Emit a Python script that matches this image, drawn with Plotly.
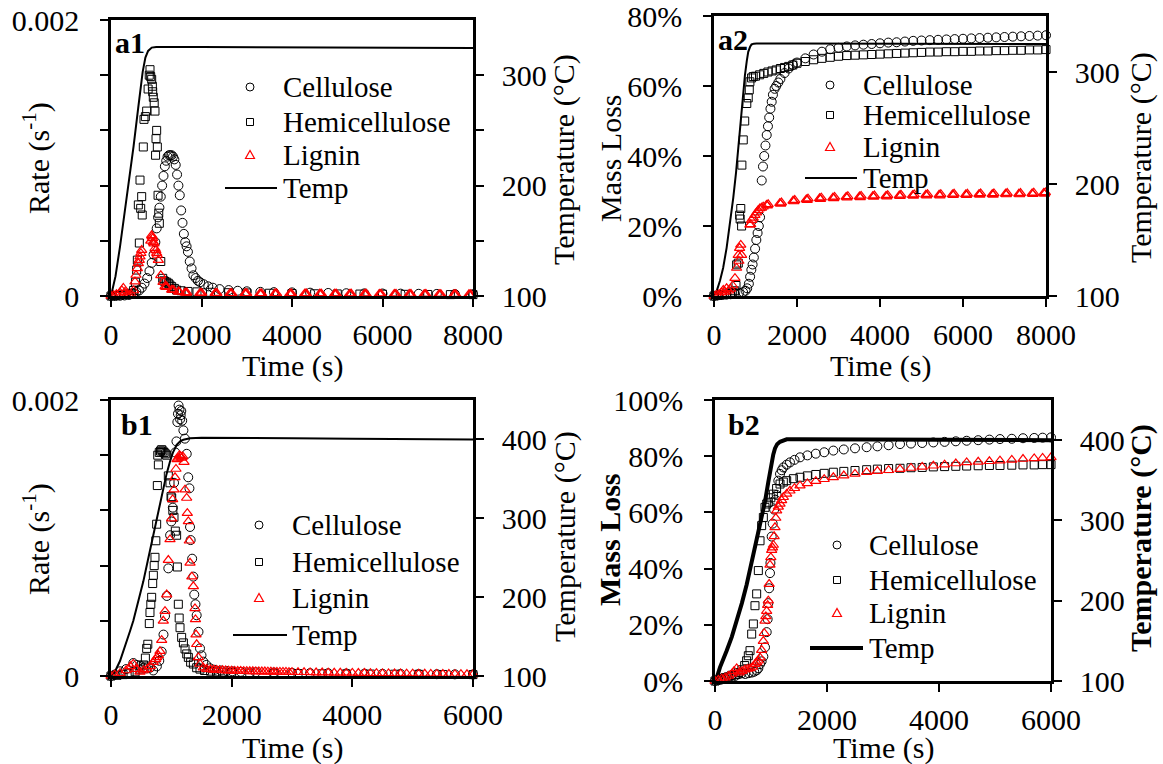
import plotly.graph_objects as go

W, H = 1163, 764
FONT = "Liberation Serif"

# ---------------- panel a1 : rate at 325 °C ----------------
A1_TEMP_T = [0, 100, 200, 300, 400, 500, 600, 700, 760, 820, 900, 1000, 2000, 3000, 4000, 5000, 6000, 7000, 8000]
A1_TEMP = [100, 118, 145, 175, 205, 236, 270, 303, 316, 322, 325, 325.5, 325.5, 325.4, 325.3, 325.1, 325, 324.8, 324.6]

A1_CEL_T = [0, 100, 200, 300, 400, 500, 560, 620, 680, 740, 800, 850, 900, 940, 980, 1010, 1040, 1070, 1100, 1130,
            1160, 1190, 1220, 1250, 1280, 1310, 1340, 1370, 1400, 1430, 1460, 1490, 1520, 1550, 1580, 1610, 1640, 1670,
            1700, 1740, 1780, 1820, 1870, 1920, 1970, 2050, 2150, 2250, 2400, 2600, 2800, 3000, 3300, 3600, 4000, 4400,
            4800, 5200, 5600, 6000, 6400, 6800, 7200, 7600, 8000]
A1_CEL = [0, 0, 0.000002, 0.000004, 0.000008, 0.00002, 0.00003, 0.00004, 0.00006, 0.00009, 0.00013, 0.00018, 0.00024,
          0.0003, 0.00039, 0.00049, 0.00057, 0.00064, 0.00072, 0.0008, 0.00087, 0.00094, 0.00098, 0.00101, 0.00102,
          0.00102, 0.00102, 0.00101, 0.00099, 0.00095, 0.00088, 0.0008, 0.00073, 0.00062, 0.00053, 0.00045, 0.00039,
          0.00036, 0.00032, 0.00025, 0.0002, 0.00015, 0.00013, 0.00011, 0.0001, 0.000085, 0.00007, 0.00006, 0.00005,
          0.000043, 0.000038, 0.000034, 0.00003, 0.000028, 0.000026, 0.000024, 0.000022, 0.00002, 0.000019, 0.000018,
          0.000017, 0.000016, 0.000015, 0.000014, 0.000013]

A1_HEM_T = [0, 100, 200, 300, 400, 450, 500, 540, 567, 582, 604, 626, 641, 656, 678, 690, 714, 729, 760, 788, 820, 845,
            862, 877, 899, 914, 921, 935, 955, 972, 985, 995, 1009, 1024, 1040, 1055, 1068, 1100, 1142, 1170, 1194, 1230,
            1267, 1300, 1341, 1400, 1451, 1550, 1700, 1900, 2200, 2600, 3000, 3500, 4000, 4500, 5000, 5500, 6000, 6500,
            7000, 7500, 8000]
A1_HEM = [0, 0.000003, 0.000006, 0.00001, 0.000015, 0.00002, 0.00004, 0.0001, 0.000188, 0.00026, 0.00066, 0.000384,
          0.00084, 0.000635, 0.00072, 0.000587, 0.00108, 0.00128, 0.0013, 0.00134, 0.0015, 0.0016, 0.00164, 0.00159,
          0.00157, 0.00152, 0.00148, 0.00144, 0.0014, 0.00134, 0.00102, 0.00114, 0.0012, 0.00108, 0.00073, 0.0006,
          0.000527, 0.00025, 0.000128, 0.00011, 0.000104, 0.0001, 0.000092, 0.00008, 0.000068, 0.000055, 0.000043,
          0.000038, 0.000033, 0.00003, 0.000027, 0.000024, 0.000022, 0.00002, 0.000018, 0.000016, 0.000015, 0.000014,
          0.000013, 0.000012, 0.000011, 0.00001, 0.00001]

A1_LIG_T = [0, 60, 120, 199, 240, 272, 310, 346, 400, 450, 500, 530, 552, 582, 604, 625, 641, 660, 678, 880, 899, 910,
            921, 935, 950, 972, 990, 1010, 1024, 1046, 1100, 1150, 1194, 1214, 1234, 1341, 1361, 1381, 1490, 1510,
            1635, 1655, 1675, 1965, 1985, 2005, 2300, 2320, 2340, 2630, 2650, 2670, 2960, 2980, 3000, 3290, 3310, 3330,
            3620, 3640, 3660, 3950, 3970, 3990, 4280, 4300, 4320, 4610, 4630, 4650, 4940, 4960, 4980, 5270, 5290, 5310,
            5600, 5620, 5640, 5930, 5950, 5970, 6260, 6280, 6300, 6590, 6610, 6630, 6920, 6940, 6960, 7250, 7270, 7290,
            7580, 7600, 7620, 7910, 7930, 7950]
A1_LIG = [0, 0.000005, 0.000012, 0.000024, 0.00004, 0.000058, 0.00003, 0.000008, 0.000006, 0.00001, 0.00004, 0.000104,
          0.000152, 0.0002, 0.000237, 0.00026, 0.000285, 0.00031, 0.000333, 0.0004, 0.00044, 0.00043, 0.000418, 0.00039,
          0.00038, 0.000345, 0.00033, 0.00031, 0.000297, 0.00026, 0.00015, 0.0001, 0.00007, 0.000065, 0.000068,
          0.000045, 0.000042, 0.000044, 0.000032, 0.00003,
          0.000024, 0.000022, 0.000025, 0.000021, 0.00002, 0.000022, 0.00002, 0.000019, 0.000021, 0.00002, 0.000018,
          0.00002, 0.000019, 0.000018, 0.00002, 0.000018, 0.000017, 0.000019, 0.000018, 0.000017, 0.000019, 0.000017,
          0.000016, 0.000018, 0.000017, 0.000016, 0.000018, 0.000016, 0.000015, 0.000017, 0.000016, 0.000015, 0.000017,
          0.000015, 0.000014, 0.000016, 0.000015, 0.000014, 0.000016, 0.000015, 0.000013, 0.000015, 0.000014, 0.000013,
          0.000015, 0.000014, 0.000012, 0.000014, 0.000013, 0.000012, 0.000014, 0.000013, 0.000011, 0.000013, 0.000012,
          0.000011, 0.000013, 0.000012, 0.00001, 0.000012]

# ---------------- panel a2 : mass loss at 325 °C ----------------
A2_TEMP_T = [0, 60, 144, 220, 304, 380, 464, 530, 584, 630, 664, 710, 745, 790, 825, 870, 905, 960, 1025, 2000, 4000,
             6000, 8000]
A2_TEMP = [100, 104, 113.6, 125, 143, 163, 187.7, 210, 232, 252, 267.7, 285, 297, 310, 318, 322.5, 324.6, 325.3, 325.5,
           325.5, 325.5, 325.3, 325]

A2_CEL_T = [0, 100, 200, 300, 400, 500, 600, 700, 760, 800, 840, 870, 900, 930, 960, 990, 1020, 1050, 1080, 1110, 1150,
            1180, 1210, 1240, 1270, 1300, 1330, 1360, 1390, 1420, 1460, 1500, 1550, 1600, 1700, 1800, 1900, 2000, 2200,
            2400, 2600, 2800, 3000, 3200, 3400, 3600, 3800, 4000, 4200, 4400, 4600, 4800, 5000, 5200, 5400, 5600, 5800,
            6000, 6200, 6400, 6600, 6800, 7000, 7200, 7400, 7600, 7800, 8000]
A2_CEL = [0, 0.002, 0.003, 0.004, 0.005, 0.006, 0.008, 0.011, 0.015, 0.022, 0.035, 0.055, 0.075, 0.09, 0.11, 0.135,
          0.16, 0.18, 0.2, 0.225, 0.33, 0.37, 0.40, 0.43, 0.46, 0.485, 0.51, 0.535, 0.555, 0.575, 0.592, 0.6, 0.61,
          0.62, 0.637, 0.65, 0.66, 0.667, 0.679, 0.69, 0.698, 0.705, 0.709, 0.713, 0.716, 0.718, 0.72, 0.722, 0.724,
          0.725, 0.727, 0.729, 0.73, 0.731, 0.732, 0.733, 0.734, 0.735, 0.736, 0.737, 0.738, 0.739, 0.74, 0.741, 0.742,
          0.743, 0.744, 0.745]

A2_HEM_T = [0, 100, 200, 300, 400, 450, 500, 530, 545, 585, 617, 630, 645, 665, 672, 705, 740, 790, 825, 850, 865, 905,
            945, 1000, 1100, 1200, 1300, 1400, 1500, 1600, 1700, 1800, 1900, 2000, 2200, 2400, 2600, 2800, 3000, 3200,
            3400, 3600, 3800, 4000, 4200, 4400, 4600, 4800, 5000, 5200, 5400, 5600, 5800, 6000, 6200, 6400, 6600, 6800,
            7000, 7200, 7400, 7600, 7800, 8000]
A2_HEM = [0, 0.002, 0.004, 0.006, 0.008, 0.01, 0.015, 0.03, 0.089, 0.094, 0.231, 0.22, 0.25, 0.2, 0.374, 0.446, 0.5,
          0.55, 0.566, 0.589, 0.612, 0.623, 0.627, 0.628, 0.632, 0.636, 0.64, 0.643, 0.646, 0.65, 0.653, 0.656, 0.66,
          0.665, 0.67, 0.675, 0.679, 0.682, 0.685, 0.687, 0.688, 0.689, 0.69, 0.691, 0.692, 0.693, 0.694, 0.695, 0.696,
          0.697, 0.697, 0.698, 0.698, 0.699, 0.699, 0.7, 0.7, 0.701, 0.701, 0.702, 0.702, 0.703, 0.703, 0.704]

A2_LIG_T = [0, 60, 120, 180, 224, 260, 304, 350, 400, 450, 505, 545, 584, 600, 617, 645, 665, 865, 885, 905, 945, 985,
            1025, 1065, 1105, 1145, 1185,
            1265, 1285, 1305, 1585, 1605, 1625, 1905, 1925, 1945, 2225, 2245, 2265, 2545, 2565, 2585, 2865, 2885, 2905,
            3185, 3205, 3225, 3505, 3525, 3545, 3825, 3845, 3865, 4145, 4165, 4185, 4465, 4485, 4505, 4785, 4805, 4825,
            5105, 5125, 5145, 5425, 5445, 5465, 5745, 5765, 5785, 6065, 6085, 6105, 6385, 6405, 6425, 6705, 6725, 6745,
            7025, 7045, 7065, 7345, 7365, 7385, 7665, 7685, 7705, 7945, 7965, 7985]
A2_LIG = [0, 0.003, 0.005, 0.01, 0.017, 0.012, 0.022, 0.015, 0.02, 0.03, 0.051, 0.08, 0.117, 0.1, 0.137, 0.146, 0.117,
          0.203, 0.205, 0.217, 0.223, 0.231, 0.238, 0.245, 0.25, 0.252, 0.255,
          0.26, 0.258, 0.262, 0.265, 0.263, 0.267, 0.272, 0.27, 0.274, 0.276, 0.274, 0.278, 0.279, 0.277, 0.281, 0.281,
          0.279, 0.283, 0.283, 0.281, 0.285, 0.284, 0.282, 0.286, 0.285, 0.283, 0.287, 0.286, 0.284, 0.288, 0.287,
          0.285, 0.289, 0.288, 0.286, 0.29, 0.289, 0.287, 0.291, 0.289, 0.287, 0.291, 0.29, 0.288, 0.292, 0.29, 0.288,
          0.292, 0.291, 0.289, 0.293, 0.291, 0.289, 0.293, 0.292, 0.29, 0.294, 0.292, 0.29, 0.294, 0.293, 0.291, 0.295,
          0.294, 0.292, 0.296]

# ---------------- panel b1 : rate at 400 °C ----------------
B1_TEMP_T = [0, 80, 149, 200, 260, 320, 370, 450, 536, 620, 702, 790, 867, 920, 978, 1030, 1088, 1150, 1199, 1310, 1500,
             2000, 3000, 4000, 5000, 6000]
B1_TEMP = [100, 108, 119, 130, 144.6, 158, 170, 193, 220, 250, 279, 310, 338, 356, 372, 384, 393, 398, 399.5, 401.5,
           402, 402, 401.5, 401, 400.5, 400]

B1_CEL_T = [0, 60, 150, 250, 370, 430, 480, 540, 590, 650, 700, 760, 800, 840, 870, 895, 925, 950, 980, 1000, 1025,
            1045, 1065, 1085, 1100, 1110, 1120, 1135, 1145, 1155, 1165, 1180, 1200, 1225, 1255, 1280, 1300, 1310, 1320,
            1345, 1365, 1380, 1400, 1420, 1450, 1475, 1500, 1530, 1580, 1640, 1720, 1820, 1920, 2010, 2150, 2400, 2700,
            3000, 3300, 3600, 3900, 4200, 4500, 4800, 5100, 5400, 5700, 6000]
B1_CEL = [0, 0.00001, 0.000034, 0.00005, 0.000094, 0.00008, 0.000075, 0.00006, 0.000055, 0.00006, 0.00004, 0.00007,
          0.00011, 0.000176, 0.0003, 0.000435, 0.00058, 0.00078, 0.00102, 0.00112, 0.00122, 0.0014, 0.00162, 0.0017,
          0.00184, 0.0019, 0.00196, 0.00193, 0.00186, 0.00189, 0.00192, 0.00185, 0.00178, 0.00172, 0.00161, 0.00144,
          0.00136, 0.00108, 0.000985, 0.00085, 0.00072, 0.00059, 0.00052, 0.00044, 0.00032, 0.0002, 0.00015, 0.000104,
          0.00008, 0.000056, 0.000045, 0.00004, 0.000036, 0.000034, 0.00003, 0.000027, 0.000025, 0.000023, 0.000021,
          0.00002, 0.000018, 0.000017, 0.000016, 0.000015, 0.000014, 0.000013, 0.000012, 0.000011]

B1_HEM_T = [0, 100, 200, 300, 400, 480, 540, 570, 591, 610, 635, 646, 660, 674, 691, 702, 716, 729, 743, 757, 768, 775,
            785, 800, 820, 840, 860, 880, 900, 923, 950, 978, 995, 1006, 1025, 1044, 1066, 1088, 1100, 1116, 1130, 1144,
            1171, 1200, 1227, 1255, 1282, 1320, 1365, 1420, 1475, 1550, 1650, 1750, 1850, 2000, 2300, 2700, 3100, 3500,
            3900, 4300, 4700, 5100, 5500, 6000]
B1_HEM = [0, 0.000005, 0.00001, 0.00002, 0.00003, 0.00005, 0.00008, 0.00013, 0.0002, 0.00023, 0.00038, 0.00046,
          0.00052, 0.00057, 0.00067, 0.00073, 0.0008, 0.00086, 0.00098, 0.0011, 0.00138, 0.0016, 0.00153, 0.00162,
          0.00163, 0.00164, 0.00163, 0.00162, 0.00161, 0.0016, 0.00145, 0.0014, 0.0013, 0.00129, 0.0012, 0.00115,
          0.00105, 0.00102, 0.00079, 0.00052, 0.00042, 0.00035, 0.00028, 0.00024, 0.000196, 0.00016, 0.000135, 0.0001,
          0.000087, 0.00006, 0.00005, 0.00004, 0.000035, 0.00003, 0.000028, 0.000025, 0.000022, 0.00002, 0.000018,
          0.000016, 0.000015, 0.000014, 0.000013, 0.000012, 0.000011, 0.00001]

B1_LIG_T = [0, 60, 150, 250, 320, 370, 420, 480, 540, 600, 650, 700, 740, 757, 785, 812, 840, 867, 895, 923, 950, 978,
            1006, 1022, 1044, 1061, 1077, 1095, 1116, 1135, 1155, 1171, 1190, 1210, 1227, 1254, 1265, 1282, 1298, 1310,
            1340, 1365, 1392, 1400, 1409, 1420, 1448, 1475, 1530, 1586, 1650,
            1700, 1750, 1800, 1850, 1900, 1950, 2000, 2050, 2100, 2150, 2200, 2250, 2300, 2350, 2400, 2450, 2500, 2550,
            2600, 2650, 2700, 2750, 2800, 2850, 2900, 2950, 3000, 3100, 3200, 3300, 3400, 3500, 3600, 3700, 3800, 3900,
            4000, 4100, 4200, 4300, 4400, 4500, 4600, 4700, 4800, 4900, 5000, 5100, 5200, 5300, 5400, 5500, 5600, 5700,
            5800, 5900, 6000]
B1_LIG = [0, 0.00001, 0.00002, 0.00004, 0.00007, 0.000087, 0.00005, 0.00003, 0.00004, 0.00005, 0.00007, 0.0001,
          0.00012, 0.000135, 0.00015, 0.00018, 0.00026, 0.0004, 0.00047, 0.00059, 0.00084, 0.00099, 0.00114, 0.00128,
          0.00135, 0.00144, 0.0015, 0.00157, 0.00158, 0.0016, 0.00159, 0.00158, 0.00159, 0.00155, 0.00135, 0.00129,
          0.00118, 0.00112, 0.00098, 0.00082, 0.00072, 0.00065, 0.00049, 0.00041, 0.0003, 0.00023, 0.000135, 0.000087,
          0.00006, 0.00005, 0.000047,
          0.000045, 0.000043, 0.000042, 0.000041, 0.00004, 0.000039, 0.000038, 0.000037, 0.000036, 0.000036, 0.000035,
          0.000035, 0.000034, 0.000034, 0.000033, 0.000033, 0.000032, 0.000032, 0.000031, 0.000031, 0.00003, 0.00003,
          0.000029, 0.000029, 0.000029, 0.000028, 0.000028, 0.000027, 0.000027, 0.000026, 0.000025, 0.000025,
          0.000024, 0.000023, 0.000023, 0.000022, 0.000022, 0.000021, 0.000021, 0.00002, 0.00002, 0.000019, 0.000019,
          0.000018, 0.000018, 0.000017, 0.000017, 0.000016, 0.000016, 0.000015, 0.000015, 0.000014, 0.000014,
          0.000013, 0.000013, 0.000012, 0.000012]

# ---------------- panel b2 : mass loss at 400 °C ----------------
B2_TEMP_T = [0, 40, 89, 150, 208, 300, 387, 480, 565, 650, 744, 820, 893, 950, 1012, 1040, 1071, 1110, 1161, 1220,
             1280, 1500, 2000, 3000, 4000, 5000, 6000]
B2_TEMP = [100, 106, 117, 127, 137.6, 155, 174.8, 197, 220, 246, 274, 300, 323.5, 347, 373, 382, 389.7, 395, 398, 400,
           401, 401, 401, 401, 400.5, 400.5, 400]

B2_CEL_T = [0, 60, 120, 180, 240, 298, 360, 420, 476, 540, 600, 655, 700, 745, 774, 804, 833, 863, 893, 923, 940, 952,
            967, 982, 990, 1012, 1030, 1056, 1080, 1101, 1131, 1161, 1190, 1220, 1280, 1339, 1420, 1518, 1650, 1800,
            1950, 2113, 2300, 2500, 2708, 2900, 3100, 3304, 3500, 3700, 3899, 4100, 4300, 4494, 4700, 4900, 5089, 5300,
            5500, 5700, 5850, 6000]
B2_CEL = [0, 0.003, 0.006, 0.01, 0.014, 0.021, 0.018, 0.024, 0.027, 0.025, 0.028, 0.03, 0.033, 0.038, 0.045, 0.06,
          0.07, 0.087, 0.12, 0.174, 0.22, 0.277, 0.33, 0.384, 0.42, 0.514, 0.56, 0.61, 0.645, 0.662, 0.713, 0.737,
          0.75, 0.76, 0.77, 0.778, 0.787, 0.796, 0.803, 0.809, 0.814, 0.82, 0.824, 0.828, 0.832, 0.835, 0.839, 0.843,
          0.845, 0.847, 0.849, 0.851, 0.853, 0.855, 0.857, 0.859, 0.861, 0.862, 0.864, 0.865, 0.866, 0.867]

B2_HEM_T = [0, 60, 120, 180, 240, 298, 360, 417, 480, 530, 565, 595, 625, 655, 685, 714, 744, 774, 804, 833, 863, 893,
            923, 952, 997, 1042, 1100, 1161, 1220, 1280, 1400, 1518, 1650, 1800, 1950, 2113, 2300, 2500, 2708, 2900,
            3100, 3304, 3500, 3700, 3899, 4100, 4300, 4494, 4700, 4900, 5089, 5300, 5500, 5700, 5850, 6000]
B2_HEM = [0, 0.004, 0.008, 0.012, 0.015, 0.02, 0.024, 0.03, 0.04, 0.055, 0.072, 0.09, 0.108, 0.167, 0.203, 0.268, 0.31,
          0.393, 0.499, 0.553, 0.582, 0.618, 0.63, 0.636, 0.652, 0.665, 0.685, 0.701, 0.708, 0.713, 0.72, 0.725, 0.73,
          0.735, 0.739, 0.743, 0.746, 0.749, 0.752, 0.754, 0.756, 0.757, 0.759, 0.76, 0.762, 0.763, 0.764, 0.765,
          0.766, 0.767, 0.767, 0.768, 0.769, 0.769, 0.77, 0.77]

B2_LIG_T = [0, 60, 120, 180, 240, 300, 340, 387, 430, 480, 530, 580, 625, 670, 714, 744, 774, 804, 833, 863, 880, 893,
            908, 923, 940, 952, 967, 982, 997, 1012, 1027, 1042, 1056, 1071, 1086, 1101, 1131, 1161, 1190, 1220, 1280,
            1339, 1420, 1518, 1650, 1800, 1950, 2113, 2300, 2500, 2708, 2900, 3100, 3304, 3500, 3700, 3899, 4100, 4300,
            4494, 4700, 4900, 5089, 5300, 5500, 5700, 5850, 6000]
B2_LIG = [0, 0.004, 0.008, 0.012, 0.018, 0.025, 0.035, 0.045, 0.03, 0.035, 0.04, 0.043, 0.045, 0.05, 0.06, 0.066,
          0.072, 0.083, 0.11, 0.142, 0.17, 0.214, 0.23, 0.249, 0.27, 0.286, 0.345, 0.413, 0.44, 0.466, 0.475, 0.484,
          0.515, 0.547, 0.58, 0.606, 0.62, 0.63, 0.643, 0.654, 0.666, 0.677, 0.686, 0.695, 0.703, 0.711, 0.718, 0.725,
          0.731, 0.737, 0.743, 0.747, 0.75, 0.754, 0.758, 0.762, 0.766, 0.77, 0.774, 0.778, 0.78, 0.782, 0.784, 0.787,
          0.79, 0.792, 0.794, 0.796]

SERIES_NAMES = ["Cellulose", "Hemicellulose", "Lignin", "Temp"]

for a, b in [(A1_TEMP_T, A1_TEMP), (A1_CEL_T, A1_CEL), (A1_HEM_T, A1_HEM), (A1_LIG_T, A1_LIG),
             (A2_TEMP_T, A2_TEMP), (A2_CEL_T, A2_CEL), (A2_HEM_T, A2_HEM), (A2_LIG_T, A2_LIG),
             (B1_TEMP_T, B1_TEMP), (B1_CEL_T, B1_CEL), (B1_HEM_T, B1_HEM), (B1_LIG_T, B1_LIG),
             (B2_TEMP_T, B2_TEMP), (B2_CEL_T, B2_CEL), (B2_HEM_T, B2_HEM), (B2_LIG_T, B2_LIG)]:
    assert len(a) == len(b), (len(a), len(b))

RATE_TICKS = [0, 0.002]
RATE_LABELS = ["0", "0.002"]
RATE_MINOR = [0.0004, 0.0008, 0.0012, 0.0016]


def fx(p):
    return p / W


def fy(p):
    return 1 - p / H


PANELS = [
    dict(tag="a1", xa="x", ya="y", yb="y2", xdom=(111, 473), ydom=(20, 296), xmax=8000,
         vrange=[0, 0.002], vticks=RATE_TICKS, vtext=RATE_LABELS, vminor=RATE_MINOR,
         trange=[100, 350], tticks=[100, 200, 300], ttext=["100", "200", "300"], tminor=[150, 250],
         data=[(A1_CEL_T, A1_CEL), (A1_HEM_T, A1_HEM), (A1_LIG_T, A1_LIG)], temp=(A1_TEMP_T, A1_TEMP), tw=2,
         vtitle="Rate (s<sup>-1</sup>)", ttitle="Temperature (°C)",
         vtitle_xy=(36, 158), ttitle_xy=(564, 160), xtitle_xy=(292, 366), label_xy=(113, 42),
         leg=dict(sym=250, text=281, rows=[87, 122, 155, 188], line=(225, 277))),
    dict(tag="a2", xa="x2", ya="y3", yb="y4", xdom=(714, 1046), ydom=(16, 296), xmax=8000,
         vrange=[0, 0.8], vticks=[0, 0.2, 0.4, 0.6, 0.8], vtext=["0%", "20%", "40%", "60%", "80%"], vminor=None,
         trange=[100, 350], tticks=[100, 200, 300], ttext=["100", "200", "300"], tminor=None,
         data=[(A2_CEL_T, A2_CEL), (A2_HEM_T, A2_HEM), (A2_LIG_T, A2_LIG)], temp=(A2_TEMP_T, A2_TEMP), tw=2,
         vtitle="Mass Loss", ttitle="Temperature (°C)",
         vtitle_xy=(610, 158), ttitle_xy=(1141, 158), xtitle_xy=(880, 366), label_xy=(716, 40),
         leg=dict(sym=830, text=861, rows=[85, 115, 147, 178], line=(805, 857))),
    dict(tag="b1", xa="x3", ya="y5", yb="y6", xdom=(111, 473), ydom=(400, 676), xmax=6000,
         vrange=[0, 0.002], vticks=RATE_TICKS, vtext=RATE_LABELS, vminor=RATE_MINOR,
         trange=[100, 450], tticks=[100, 200, 300, 400], ttext=["100", "200", "300", "400"], tminor=None,
         data=[(B1_CEL_T, B1_CEL), (B1_HEM_T, B1_HEM), (B1_LIG_T, B1_LIG)], temp=(B1_TEMP_T, B1_TEMP), tw=2,
         vtitle="Rate (s<sup>-1</sup>)", ttitle="Temperature (°C)",
         vtitle_xy=(36, 539), ttitle_xy=(565, 537), xtitle_xy=(292, 748), label_xy=(119, 424),
         leg=dict(sym=259, text=290, rows=[525, 562, 598, 635], line=(233, 287))),
    dict(tag="b2", xa="x4", ya="y7", yb="y8", xdom=(715, 1051), ydom=(400, 681), xmax=6000,
         vrange=[0, 1.0], vticks=[0, 0.2, 0.4, 0.6, 0.8, 1.0], vtext=["0%", "20%", "40%", "60%", "80%", "100%"],
         vminor=None,
         trange=[100, 450], tticks=[100, 200, 300, 400], ttext=["100", "200", "300", "400"], tminor=None,
         data=[(B2_CEL_T, B2_CEL), (B2_HEM_T, B2_HEM), (B2_LIG_T, B2_LIG)], temp=(B2_TEMP_T, B2_TEMP), tw=4,
         vtitle="<b>Mass Loss</b>", ttitle="<b>Temperature (°C)</b>",
         vtitle_xy=(609, 540), ttitle_xy=(1141, 538), xtitle_xy=(883, 748), label_xy=(726, 425),
         leg=dict(sym=837, text=867, rows=[545, 580, 613, 648], line=(810, 863))),
]

MARKERS = [
    dict(symbol="circle-open", size=9, color="black", line=dict(width=1, color="black")),
    dict(symbol="square-open", size=8, color="black", line=dict(width=1, color="black")),
    dict(symbol="triangle-up-open", size=9, color="red", line=dict(width=1.2, color="red")),
]

TICK_FONT = dict(family=FONT, size=30, color="black")
TEXT_FONT = dict(family=FONT, size=30, color="black")
LEG_FONT = dict(family=FONT, size=29, color="black")


def minor_ticks(vals):
    if not vals:
        return dict(ticks="")
    return dict(tickvals=vals, ticks="outside", ticklen=8, tickwidth=2, tickcolor="black", showgrid=False)


fig = go.Figure()
layout = {}
annotations = []
shapes = []

for p in PANELS:
    xname = "xaxis" + p["xa"][1:]
    yname_t = "yaxis" + p["ya"][1:]
    yname_v = "yaxis" + p["yb"][1:]
    xdom = [fx(p["xdom"][0]), fx(p["xdom"][1])]
    ydom = [fy(p["ydom"][1]), fy(p["ydom"][0])]
    common = dict(showline=True, linecolor="black", linewidth=2.5, ticks="outside", ticklen=8, tickwidth=2,
                  tickcolor="black", tickfont=TICK_FONT, showgrid=False, zeroline=False, automargin=False,
                  ticklabeloverflow="allow")
    # a hair of headroom keeps the top tick (0.002 / 80% / 100%) from being dropped at the range edge
    vr = [p["vrange"][0], p["vrange"][1] * 1.00001]
    layout[xname] = dict(domain=xdom, anchor=p["ya"], range=[0, p["xmax"]], tickvals=list(range(0, p["xmax"] + 1, 2000)),
                         mirror=True, ticklabelstandoff=2, **common)
    layout[yname_t] = dict(domain=ydom, anchor=p["xa"], side="right", range=p["trange"], tickvals=p["tticks"],
                           ticktext=p["ttext"], ticklabelstandoff=12, minor=minor_ticks(p["tminor"]), **common)
    layout[yname_v] = dict(overlaying=p["ya"], anchor=p["xa"], side="left", range=vr, tickvals=p["vticks"],
                           ticktext=p["vtext"], ticklabelstandoff=15, minor=minor_ticks(p["vminor"]), **common)

    # temperature profile on the base (right-hand) axis so the markers sit on top of it
    fig.add_trace(go.Scatter(x=p["temp"][0], y=p["temp"][1], xaxis=p["xa"], yaxis=p["ya"], mode="lines",
                             line=dict(color="black", width=p["tw"]), name="Temp", showlegend=False))
    for (tx, vy), mk, nm in zip(p["data"], MARKERS, SERIES_NAMES):
        fig.add_trace(go.Scatter(x=tx, y=vy, xaxis=p["xa"], yaxis=p["yb"], mode="markers", marker=mk, name=nm,
                                 showlegend=False, cliponaxis=False))

    # axis titles
    annotations.append(dict(text=p["vtitle"], x=fx(p["vtitle_xy"][0]), y=fy(p["vtitle_xy"][1]), textangle=-90,
                            xref="paper", yref="paper", showarrow=False, font=TEXT_FONT,
                            xanchor="center", yanchor="middle"))
    annotations.append(dict(text=p["ttitle"], x=fx(p["ttitle_xy"][0]), y=fy(p["ttitle_xy"][1]), textangle=-90,
                            xref="paper", yref="paper", showarrow=False, font=TEXT_FONT,
                            xanchor="center", yanchor="middle"))
    annotations.append(dict(text="Time (s)", x=fx(p["xtitle_xy"][0]), y=fy(p["xtitle_xy"][1]),
                            xref="paper", yref="paper", showarrow=False, font=TEXT_FONT,
                            xanchor="center", yanchor="middle"))
    annotations.append(dict(text="<b>%s</b>" % p["tag"], x=fx(p["label_xy"][0]), y=fy(p["label_xy"][1]),
                            xref="paper", yref="paper", showarrow=False, font=dict(family=FONT, size=30, color="black"),
                            xanchor="left", yanchor="middle"))

    # legend block
    lg = p["leg"]
    sx = fx(lg["sym"])
    r0, r1, r2, r3 = lg["rows"]
    base = dict(xref="paper", yref="paper", xsizemode="pixel", ysizemode="pixel", xanchor=sx)
    shapes.append(dict(type="circle", yanchor=fy(r0), x0=-4, x1=4, y0=-4, y1=4,
                       line=dict(color="black", width=1), **base))
    shapes.append(dict(type="rect", yanchor=fy(r1), x0=-3.5, x1=3.5, y0=-3.5, y1=3.5,
                       line=dict(color="black", width=1), **base))
    shapes.append(dict(type="path", yanchor=fy(r2), path="M -4.5 -3.5 L 4.5 -3.5 L 0 4.5 Z",
                       line=dict(color="red", width=1.2), **base))
    shapes.append(dict(type="line", xref="paper", yref="paper", x0=fx(lg["line"][0]), x1=fx(lg["line"][1]),
                       y0=fy(r3), y1=fy(r3), line=dict(color="black", width=p["tw"])))
    for name, ry in zip(SERIES_NAMES, lg["rows"]):
        annotations.append(dict(text=name, x=fx(lg["text"]), y=fy(ry), xref="paper", yref="paper",
                                showarrow=False, font=LEG_FONT, xanchor="left", yanchor="middle"))

fig.update_layout(template="none", width=W, height=H, margin=dict(l=0, r=0, t=0, b=0, autoexpand=False),
                  paper_bgcolor="white", plot_bgcolor="white", showlegend=False, annotations=annotations,
                  shapes=shapes, font=dict(family=FONT, color="black"), **layout)

fig.write_html("out.html", config={"displayModeBar": False})
